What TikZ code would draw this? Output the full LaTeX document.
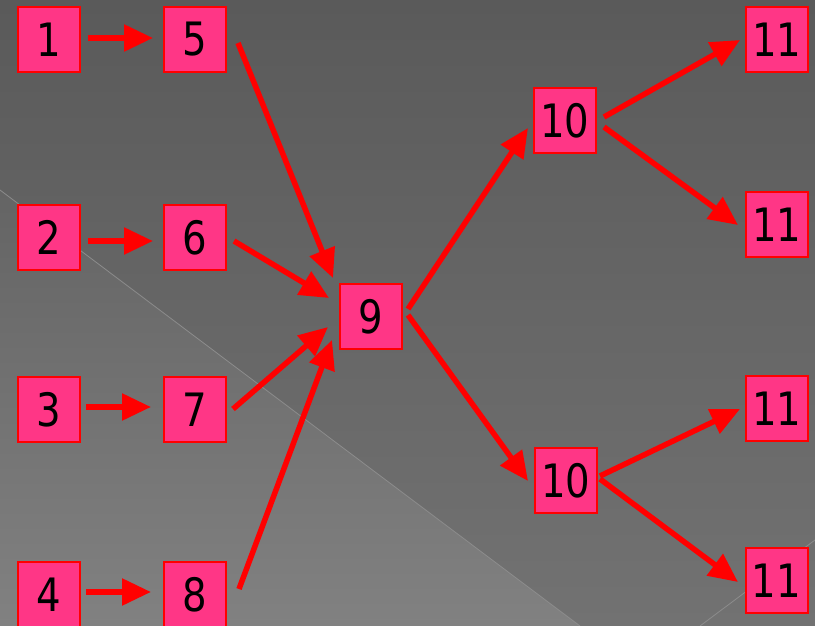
\documentclass[tikz,border=0pt]{standalone}
\usepackage{fontspec}
\setmainfont{DejaVu Sans}
\newfontfamily\digitfont[FakeStretch=0.84]{DejaVu Sans}
\usetikzlibrary{arrows.meta}
\definecolor{boxfill}{HTML}{FF3686}
\definecolor{boxline}{HTML}{FF0000}
\definecolor{bgtop}{HTML}{5A5A5A}
\definecolor{bgbot}{HTML}{727272}
\definecolor{bandtop}{HTML}{646464}
\definecolor{bandbot}{HTML}{818181}
\definecolor{seam}{HTML}{8C8C8C}
\tikzset{
  numbox/.style={draw=boxline, fill=boxfill, line width=2pt, minimum width=62pt,
    minimum height=65pt, inner sep=0pt, font=\digitfont\fontsize{46}{46}\selectfont, text=black},
  arr/.style={draw=boxline, line width=5.5pt,
    -{Triangle[length=29pt,width=26pt]}},
}
\begin{document}
\begin{tikzpicture}[x=1pt,y=-1pt]
  % backdrop
  \useasboundingbox (0,0) rectangle (815,626);
  \shade[top color=bgtop, bottom color=bgbot] (0,0) rectangle (815,626);
  \shade[top color=bandtop, bottom color=bandbot] (0,190) -- (580,626) -- (0,626) -- cycle;
  \draw[seam, line width=0.8pt] (0,190) -- (580,626);
  \draw[seam, line width=0.8pt] (700,626) -- (815,540);

  % boxes
  \node[numbox] (n1) at (49,39.5) {1};
  \node[numbox] (n5) at (195,39.5) {5};
  \node[numbox] (n2) at (49,237.5) {2};
  \node[numbox] (n6) at (195,237.5) {6};
  \node[numbox] (n3) at (49,409.5) {3};
  \node[numbox] (n7) at (195,409.5) {7};
  \node[numbox] (n4) at (49,594.5) {4};
  \node[numbox] (n8) at (195,594.5) {8};
  \node[numbox] (n9) at (371,316.5) {9};
  \node[numbox] (n10a) at (565,120.5) {10};
  \node[numbox] (n10b) at (566,480.5) {10};
  \node[numbox] (n11a) at (777,39.5) {11};
  \node[numbox] (n11b) at (777,224.5) {11};
  \node[numbox] (n11c) at (777,408.5) {11};
  \node[numbox] (n11d) at (776.5,580.5) {11};

  % connectors
  \draw[arr] ([shift={(39,-1.5)}]n1.center) -- ([shift={(-42,-1.5)}]n5.center);
  \draw[arr] ([shift={(39,3.5)}]n2.center) -- ([shift={(-42,3.5)}]n6.center);
  \draw[arr] ([shift={(37,-2.5)}]n3.center) -- ([shift={(-44,-2.5)}]n7.center);
  \draw[arr] ([shift={(37,-2.5)}]n4.center) -- ([shift={(-44,-2.5)}]n8.center);

  \draw[arr] ([shift={(43,3.5)}]n5.center) -- ([shift={(-38,-38.5)}]n9.center);
  \draw[arr] ([shift={(39,3.5)}]n6.center) -- ([shift={(-42,-18.5)}]n9.center);
  \draw[arr] ([shift={(38,-0.5)}]n7.center) -- ([shift={(-43,10.5)}]n9.center);
  \draw[arr] ([shift={(44,-5.5)}]n8.center) -- ([shift={(-39,23.5)}]n9.center);

  \draw[arr] ([shift={(37,-7.5)}]n9.center) -- ([shift={(-37,7.5)}]n10a.center);
  \draw[arr] ([shift={(37,-1.5)}]n9.center) -- ([shift={(-38,0.5)}]n10b.center);

  \draw[arr] ([shift={(39,-3.5)}]n10a.center) -- ([shift={(-37,0.5)}]n11a.center);
  \draw[arr] ([shift={(39,6.5)}]n10a.center) -- ([shift={(-39,0.5)}]n11b.center);
  \draw[arr] ([shift={(34,-4.5)}]n10b.center) -- ([shift={(-37,0.5)}]n11c.center);
  \draw[arr] ([shift={(34,-1.5)}]n10b.center) -- ([shift={(-38.5,1.5)}]n11d.center);
\end{tikzpicture}
\end{document}
